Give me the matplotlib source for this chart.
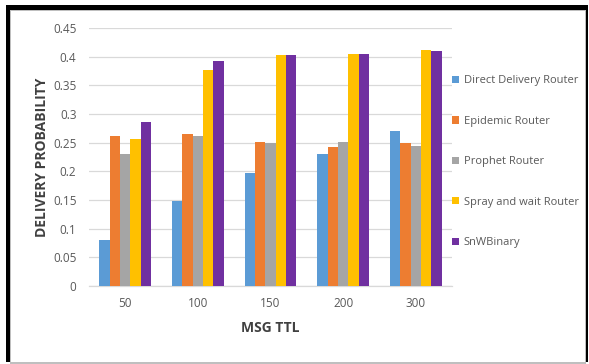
import matplotlib
matplotlib.use('Agg')
import matplotlib.pyplot as plt
import numpy as np
from matplotlib.patches import Rectangle

W, H = 589, 364

ttl = ['50', '100', '150', '200', '300']
routers = ['Direct Delivery Router', 'Epidemic Router', 'Prophet Router',
           'Spray and wait Router', 'SnWBinary']
direct = [0.080, 0.149, 0.197, 0.230, 0.270]
epidemic = [0.261, 0.265, 0.252, 0.243, 0.250]
prophet = [0.230, 0.261, 0.249, 0.252, 0.245]
spray = [0.256, 0.377, 0.403, 0.405, 0.412]
snw = [0.286, 0.392, 0.403, 0.405, 0.410]
series = [direct, epidemic, prophet, spray, snw]
colors = ['#5B9BD5', '#ED7D31', '#A5A5A5', '#FFC000', '#7030A0']

plt.rcParams['font.family'] = ['Open Sans', 'DejaVu Sans']


def fx(px):
    return px / W


def fy(py):
    return 1 - py / H


def box(x0, y0, x1, y1, color):
    # rectangle given in pixel corners (top-left origin)
    fig.add_artist(Rectangle((fx(x0), fy(y1)), fx(x1 - x0), (y1 - y0) / H,
                             transform=fig.transFigure, facecolor=color,
                             edgecolor='none', zorder=0))


fig = plt.figure(figsize=(W / 100, H / 100), dpi=100)
fig.patch.set_facecolor('white')

# outer frame: black border, heavier on the top/left, with a thin grey line inside
box(6, 5, 588, 362, 'black')
box(10, 10, 586, 364, '#BFBFBF')
box(11, 11, 585, 362, 'white')

ax = fig.add_axes([fx(89), fy(286), fx(452 - 89), 258 / H])
ax.set_facecolor('none')

x = np.arange(len(ttl))
bw = 0.143
for i, (vals, c, name) in enumerate(zip(series, colors, routers)):
    ax.bar(x + (i - 2) * bw, vals, bw, color=c, label=name, zorder=3)

ax.set_xlim(-0.5, len(ttl) - 0.5)
ax.set_ylim(0, 0.45)
ax.set_yticks(np.arange(0, 0.451, 0.05))
ax.set_yticklabels(['0', '0.05', '0.1', '0.15', '0.2', '0.25', '0.3', '0.35', '0.4', '0.45'])
ax.set_xticks(x)
ax.set_xticklabels(ttl)
ax.grid(axis='y', color='#D9D9D9', linewidth=0.9, zorder=0)
for s in ['top', 'right', 'left']:
    ax.spines[s].set_visible(False)
ax.spines['bottom'].set_color('#D9D9D9')
ax.spines['bottom'].set_linewidth(0.9)
ax.tick_params(length=0, labelsize=8.5, labelcolor='#595959')
ax.tick_params(axis='y', pad=9)
ax.tick_params(axis='x', pad=8)

ax.set_xlabel('MSG TTL', fontsize=10, fontweight='bold', color='#404040', labelpad=8)
ax.set_ylabel('DELIVERY PROBABILITY', fontsize=10, fontweight='bold', color='#404040', labelpad=3)

handles = [Rectangle((0, 0), 1, 1, facecolor=c, edgecolor='none') for c in colors]
fig.legend(handles, routers, loc='upper left', bbox_to_anchor=(fx(448), fy(71)),
           frameon=False, fontsize=8, labelcolor='#595959', handlelength=0.6,
           handleheight=0.6, handletextpad=0.4, labelspacing=2.65, borderaxespad=0)

fig.savefig('out.png', dpi=100)
